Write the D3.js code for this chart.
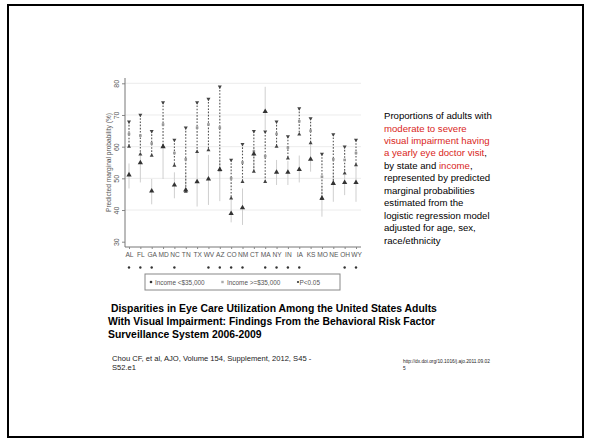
<!DOCTYPE html>
<html>
<head>
<meta charset="utf-8">
<script src="https://cdn.jsdelivr.net/npm/d3@7"></script>
<style>
  html, body { margin: 0; padding: 0; background: #fff; }
  svg { display: block; font-family: "Liberation Sans", Arial, sans-serif; }
</style>
</head>
<body>
<div id="slide"></div>
<script>
// states along the x axis
const states = ["AL", "FL", "GA", "MD", "NC", "TN", "TX", "WV", "AZ", "CO", "NM",
                "CT", "MA", "NY", "IN", "IA", "KS", "MO", "NE", "OH", "WY"];

// Income >= $35,000 : dashed interval
const highEst = [64.0, 63.5, 61.0, 67.0, 58.0, 56.0, 66.0, 67.0, 66.0, 50.0, 55.0,
                 58.5, 57.0, 64.0, 59.7, 68.0, 65.0, 50.5, 56.0, 55.8, 58.0];
const highLo  = [60.0, 57.6, 57.2, 60.0, 54.0, 45.8, 58.4, 58.9, 52.6, 43.7, 48.9,
                 52.1, 48.9, 60.0, 56.3, 63.9, 61.1, 43.5, 48.4, 51.6, 54.2];
const highHi  = [67.9, 70.0, 64.9, 74.0, 62.1, 66.0, 74.0, 75.1, 78.9, 55.8, 60.8,
                 64.9, 64.7, 67.9, 63.2, 72.1, 68.9, 57.7, 63.9, 60.0, 62.1];

// Income < $35,000 : grey interval
const lowEst = [51.1, 54.9, 46.0, 60.0, 47.9, 46.3, 48.9, 49.8, 52.8, 38.9, 40.7,
                57.7, 71.1, 51.9, 51.9, 52.8, 56.0, 43.7, 48.4, 48.7, 48.7];
const lowLo  = [46.8, 48.7, 41.8, 49.8, 43.7, 45.6, 41.1, 41.6, 42.8, 36.1, 35.3,
                52.6, 65.3, 47.9, 47.9, 48.7, 52.1, 37.9, 42.6, 44.7, 42.6];
const lowHi  = [54.7, 57.4, 49.8, 61.1, 51.9, 52.1, 58.4, 57.4, 56.3, 43.7, 46.8,
                60.0, 78.9, 55.8, 55.5, 57.2, 61.1, 47.9, 52.1, 51.1, 54.2];

// states with P<0.05
const significant = ["AL", "FL", "GA", "NC", "WV", "AZ", "CO", "NM",
                     "MA", "NY", "IN", "IA", "OH", "WY"];

const yTicks = [30, 40, 50, 60, 70, 80];
const gridTicks = [40, 50, 60, 70, 80];

const noteLines = [
  [["Proportions of adults with", "k"]],
  [["moderate to severe", "r"]],
  [["visual impairment having", "r"]],
  [["a yearly eye doctor visit", "r"], [",", "k"]],
  [["by state and ", "k"], ["income", "r"], [",", "k"]],
  [["represented by predicted", "k"]],
  [["marginal probabilities", "k"]],
  [["estimated from the", "k"]],
  [["logistic regression model", "k"]],
  [["adjusted for age, sex,", "k"]],
  [["race/ethnicity", "k"]]
];

const titleLines = [
  " Disparities in Eye Care Utilization Among the United States Adults",
  "With Visual Impairment: Findings From the Behavioral Risk Factor",
  "Surveillance System 2006-2009"
];

const citeLines = ["Chou CF, et al, AJO, Volume 154, Supplement, 2012, S45 -", "S52.e1"];
const doiLines = ["http://dx.doi.org/10.1016/j.ajo.2011.09.02", "5"];

const width = 591, height = 442;

const svg = d3.select("#slide").append("svg")
  .attr("width", width)
  .attr("height", height);

// slide frame
svg.append("rect")
  .attr("x", 8).attr("y", 5)
  .attr("width", 575).attr("height", 432)
  .attr("fill", "none")
  .attr("stroke", "#000")
  .attr("stroke-width", 2);

const x = d3.scalePoint().domain(states).range([129, 356]);
const y = d3.scaleLinear().domain([30, 80]).range([241.7, 83.3]);

const plotLeft = 125, plotRight = 361, axisBottom = 247;
const chart = svg.append("g");

// gridlines
chart.selectAll("line.grid")
  .data(gridTicks).enter()
  .append("line")
  .attr("x1", plotLeft).attr("x2", plotRight)
  .attr("y1", d => y(d)).attr("y2", d => y(d))
  .attr("stroke", "#ececec")
  .attr("stroke-width", 1);

// y axis
const yAxis = chart.append("g")
  .attr("transform", `translate(${plotLeft},0)`)
  .call(d3.axisLeft(y).tickValues(yTicks).tickSize(3).tickPadding(2));
yAxis.select(".domain").remove();
yAxis.selectAll(".tick line").attr("stroke", "#888");
yAxis.selectAll(".tick text")
  .attr("fill", "#555")
  .attr("font-size", 7)
  .attr("transform", "rotate(-90)")
  .attr("x", 0).attr("y", -6)
  .attr("dy", 0)
  .attr("text-anchor", "middle");
chart.append("line")
  .attr("x1", plotLeft).attr("x2", plotLeft)
  .attr("y1", 78).attr("y2", axisBottom)
  .attr("stroke", "#777").attr("stroke-width", 1);

chart.append("text")
  .attr("transform", `translate(111,${(78 + axisBottom) / 2}) rotate(-90)`)
  .attr("text-anchor", "middle")
  .attr("font-size", 6.6)
  .attr("fill", "#555")
  .text("Predicted marginal probability (%)");

// x axis
const xAxis = chart.append("g")
  .attr("transform", `translate(0,${axisBottom})`)
  .call(d3.axisBottom(x).tickSize(2).tickPadding(3).tickSizeOuter(0));
xAxis.select(".domain")
  .attr("d", `M${plotLeft},0H${plotRight}`)
  .attr("stroke", "#777");
xAxis.selectAll(".tick line").attr("stroke", "#888");
xAxis.selectAll(".tick text")
  .attr("fill", "#555")
  .attr("font-size", 6.6);

const rows = states.map((s, i) => ({
  state: s,
  hEst: highEst[i], hLo: highLo[i], hHi: highHi[i],
  lEst: lowEst[i], lLo: lowLo[i], lHi: lowHi[i]
}));

// grey intervals (Income <$35,000)
chart.selectAll("line.low")
  .data(rows).enter()
  .append("line")
  .attr("x1", d => x(d.state)).attr("x2", d => x(d.state))
  .attr("y1", d => y(d.lHi)).attr("y2", d => y(d.lLo))
  .attr("stroke", "#cfcfcf")
  .attr("stroke-width", 1);

// dashed intervals (Income >=$35,000)
chart.selectAll("line.high")
  .data(rows).enter()
  .append("line")
  .attr("x1", d => x(d.state)).attr("x2", d => x(d.state))
  .attr("y1", d => y(d.hHi)).attr("y2", d => y(d.hLo))
  .attr("stroke", "#555")
  .attr("stroke-width", 1.1)
  .attr("stroke-dasharray", "1.6,1.6");

const tri = d3.symbol().type(d3.symbolTriangle);

// caps of the dashed interval
chart.selectAll("path.capTop")
  .data(rows).enter()
  .append("path")
  .attr("d", tri.size(7))
  .attr("transform", d => `translate(${x(d.state)},${y(d.hHi)}) rotate(180)`)
  .attr("fill", "#444");
chart.selectAll("path.capBottom")
  .data(rows).enter()
  .append("path")
  .attr("d", tri.size(7))
  .attr("transform", d => `translate(${x(d.state)},${y(d.hLo)})`)
  .attr("fill", "#444");

// estimate markers
chart.selectAll("rect.highEst")
  .data(rows).enter()
  .append("rect")
  .attr("x", d => x(d.state) - 1.3).attr("y", d => y(d.hEst) - 1.3)
  .attr("width", 2.6).attr("height", 2.6)
  .attr("fill", "#999");
chart.selectAll("path.lowEst")
  .data(rows).enter()
  .append("path")
  .attr("d", tri.size(12))
  .attr("transform", d => `translate(${x(d.state)},${y(d.lEst)})`)
  .attr("fill", "#333");

// P<0.05 dots
chart.selectAll("circle.sig")
  .data(significant).enter()
  .append("circle")
  .attr("cx", d => x(d)).attr("cy", 267.5)
  .attr("r", 1.2)
  .attr("fill", "#333");

// legend
const legend = chart.append("g");
legend.append("rect")
  .attr("x", 145).attr("y", 274)
  .attr("width", 195).attr("height", 16)
  .attr("fill", "#fff")
  .attr("stroke", "#888")
  .attr("stroke-width", 1);
const legendItems = [
  {label: "Income <$35,000", mx: 151, tx: 155, kind: "low"},
  {label: "Income >=$35,000", mx: 222.5, tx: 227, kind: "high"},
  {label: "P<0.05", mx: 298, tx: 299.5, kind: "sig"}
];
legendItems.forEach(it => {
  if (it.kind === "low") {
    legend.append("circle").attr("cx", it.mx).attr("cy", 282).attr("r", 1.3).attr("fill", "#333");
  } else if (it.kind === "high") {
    legend.append("rect").attr("x", it.mx - 1.2).attr("y", 280.8)
      .attr("width", 2.4).attr("height", 2.4).attr("fill", "#aaa");
  } else {
    legend.append("circle").attr("cx", it.mx).attr("cy", 282).attr("r", 1.1).attr("fill", "#333");
  }
  legend.append("text")
    .attr("x", it.tx).attr("y", 284.5)
    .attr("font-size", 6.4)
    .attr("fill", "#555")
    .text(it.label);
});

// side note
const colors = {k: "#000", r: "#d9261c"};
const note = svg.append("text")
  .attr("font-size", 9.6);
noteLines.forEach((parts, i) => {
  parts.forEach((p, j) => {
    const t = note.append("tspan")
      .attr("fill", colors[p[1]])
      .text(p[0]);
    if (j === 0) t.attr("x", 384).attr("y", 119.2 + i * 12.43);
  });
});

// title
svg.append("g").selectAll("text")
  .data(titleLines).enter()
  .append("text")
  .attr("x", 108)
  .attr("y", (d, i) => 312 + i * 12.9)
  .attr("font-size", 10.4)
  .attr("font-weight", "bold")
  .attr("xml:space", "preserve")
  .style("white-space", "pre")
  .text(d => d);

// citation
svg.append("g").selectAll("text")
  .data(citeLines).enter()
  .append("text")
  .attr("x", 112)
  .attr("y", (d, i) => 361 + i * 9.2)
  .attr("font-size", 7.6)
  .attr("fill", "#222")
  .text(d => d);

svg.append("g").selectAll("text")
  .data(doiLines).enter()
  .append("text")
  .attr("x", 403)
  .attr("y", (d, i) => 363 + i * 7)
  .attr("font-size", 4.8)
  .attr("fill", "#222")
  .text(d => d);
</script>
</body>
</html>
